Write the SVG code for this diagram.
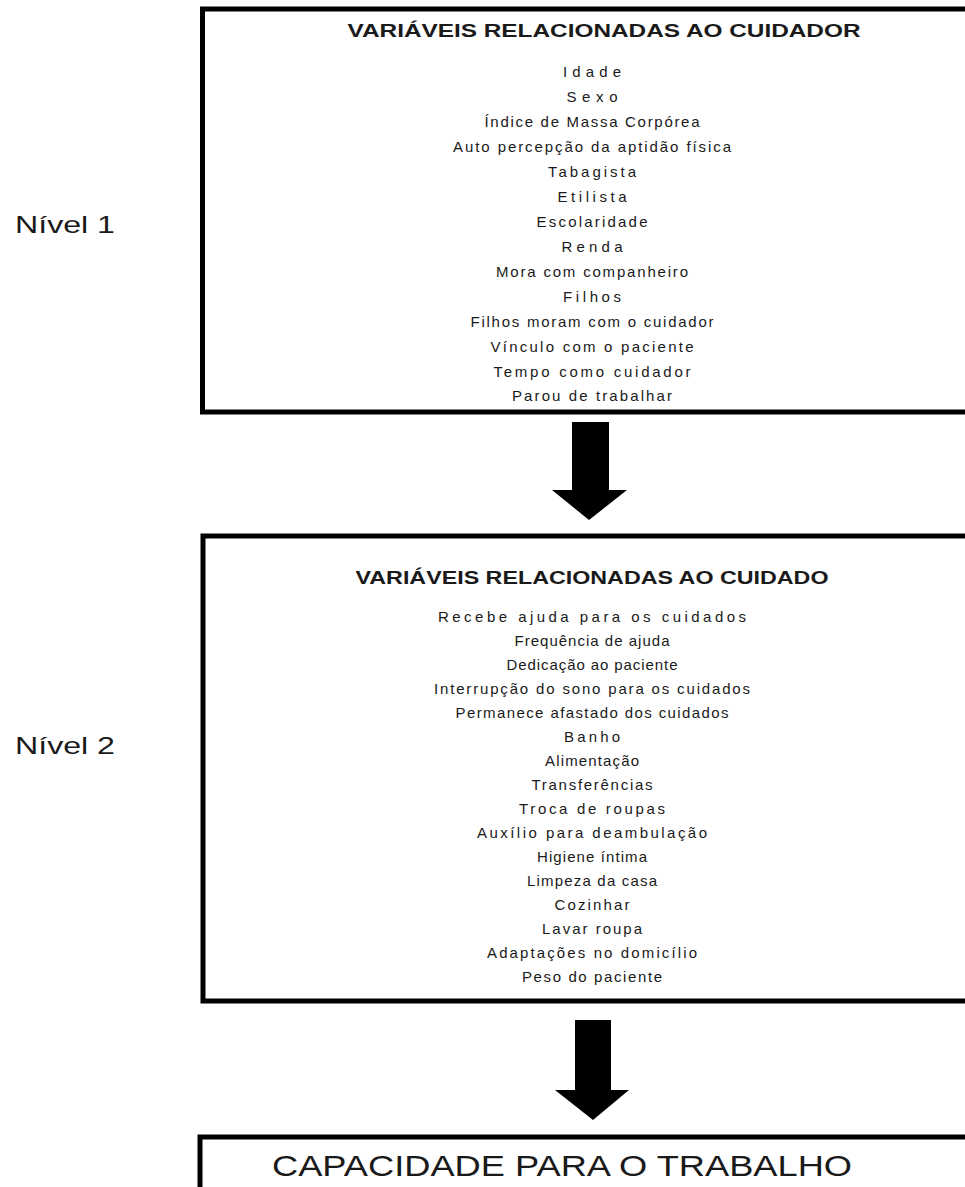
<svg xmlns="http://www.w3.org/2000/svg" width="965" height="1187" viewBox="0 0 965 1187">
<style>
.box{fill:#fff;stroke:#000;stroke-width:5}
.title{font-family:"Liberation Sans",Arial,sans-serif;font-weight:bold;font-size:18px;fill:#1a1a1a;text-anchor:middle}
.item{font-family:"Liberation Sans",Arial,sans-serif;font-size:15px;fill:#1a1a1a;text-anchor:middle}
.lvl{font-family:"Liberation Sans",Arial,sans-serif;font-size:24px;fill:#1a1a1a}
.big{font-family:"Liberation Sans Narrow","Liberation Sans",Arial,sans-serif;font-size:30px;fill:#1a1a1a;text-anchor:middle}
.arrow{fill:#000}
</style>
<rect width="965" height="1187" fill="#fff"/>
<g id="level1-label"><text class="lvl" x="15" y="233" textLength="100" lengthAdjust="spacingAndGlyphs">Nível 1</text></g>
<g id="level2-label"><text class="lvl" x="15" y="754" textLength="100" lengthAdjust="spacingAndGlyphs">Nível 2</text></g>
<g id="box-cuidador">
<rect class="box" x="202.5" y="9" width="820" height="403"/>
<text class="title" x="604" y="37" textLength="513" lengthAdjust="spacingAndGlyphs">VARIÁVEIS RELACIONADAS AO CUIDADOR</text>
<text class="item" x="592" y="77" textLength="58" lengthAdjust="spacing">Idade</text>
<text class="item" x="592" y="102" textLength="51" lengthAdjust="spacing">Sexo</text>
<text class="item" x="592" y="127" textLength="215" lengthAdjust="spacing">Índice de Massa Corpórea</text>
<text class="item" x="592" y="152" textLength="278" lengthAdjust="spacing">Auto percepção da aptidão física</text>
<text class="item" x="592" y="177" textLength="88" lengthAdjust="spacing">Tabagista</text>
<text class="item" x="592" y="202" textLength="69" lengthAdjust="spacing">Etilista</text>
<text class="item" x="592" y="227" textLength="111" lengthAdjust="spacing">Escolaridade</text>
<text class="item" x="592" y="252" textLength="61" lengthAdjust="spacing">Renda</text>
<text class="item" x="592" y="277" textLength="192" lengthAdjust="spacing">Mora com companheiro</text>
<text class="item" x="592" y="302" textLength="58" lengthAdjust="spacing">Filhos</text>
<text class="item" x="592" y="327" textLength="243" lengthAdjust="spacing">Filhos moram com o cuidador</text>
<text class="item" x="592" y="352" textLength="203" lengthAdjust="spacing">Vínculo com o paciente</text>
<text class="item" x="592" y="377" textLength="197" lengthAdjust="spacing">Tempo como cuidador</text>
<text class="item" x="592" y="401" textLength="160" lengthAdjust="spacing">Parou de trabalhar</text>
</g>
<g id="box-cuidado">
<rect class="box" x="203" y="536" width="820" height="465"/>
<text class="title" x="592" y="584" textLength="473" lengthAdjust="spacingAndGlyphs">VARIÁVEIS RELACIONADAS AO CUIDADO</text>
<text class="item" x="592" y="622" textLength="308" lengthAdjust="spacing">Recebe ajuda para os cuidados</text>
<text class="item" x="592" y="646" textLength="155" lengthAdjust="spacing">Frequência de ajuda</text>
<text class="item" x="592" y="670" textLength="171" lengthAdjust="spacing">Dedicação ao paciente</text>
<text class="item" x="592" y="694" textLength="316" lengthAdjust="spacing">Interrupção do sono para os cuidados</text>
<text class="item" x="592" y="718" textLength="273" lengthAdjust="spacing">Permanece afastado dos cuidados</text>
<text class="item" x="592" y="742" textLength="56" lengthAdjust="spacing">Banho</text>
<text class="item" x="592" y="766" textLength="94" lengthAdjust="spacing">Alimentação</text>
<text class="item" x="592" y="790" textLength="121" lengthAdjust="spacing">Transferências</text>
<text class="item" x="592" y="814" textLength="146" lengthAdjust="spacing">Troca de roupas</text>
<text class="item" x="592" y="838" textLength="230" lengthAdjust="spacing">Auxílio para deambulação</text>
<text class="item" x="592" y="862" textLength="110" lengthAdjust="spacing">Higiene íntima</text>
<text class="item" x="592" y="886" textLength="130" lengthAdjust="spacing">Limpeza da casa</text>
<text class="item" x="592" y="910" textLength="75" lengthAdjust="spacing">Cozinhar</text>
<text class="item" x="592" y="934" textLength="100" lengthAdjust="spacing">Lavar roupa</text>
<text class="item" x="592" y="958" textLength="210" lengthAdjust="spacing">Adaptações no domicílio</text>
<text class="item" x="592" y="982" textLength="140" lengthAdjust="spacing">Peso do paciente</text>
</g>
<g id="box-capacidade">
<rect class="box" x="200" y="1137" width="820" height="100"/>
<text class="big" x="562" y="1176" textLength="580" lengthAdjust="spacingAndGlyphs">CAPACIDADE  PARA O TRABALHO</text>
</g>
<g id="connectors">
<polygon class="arrow" points="572,422 609,422 609,490 627,490 589,520 552,490 572,490"/>
<polygon class="arrow" points="575,1020 611,1020 611,1090 629,1090 593,1120 555,1090 575,1090"/>
</g>
</svg>
